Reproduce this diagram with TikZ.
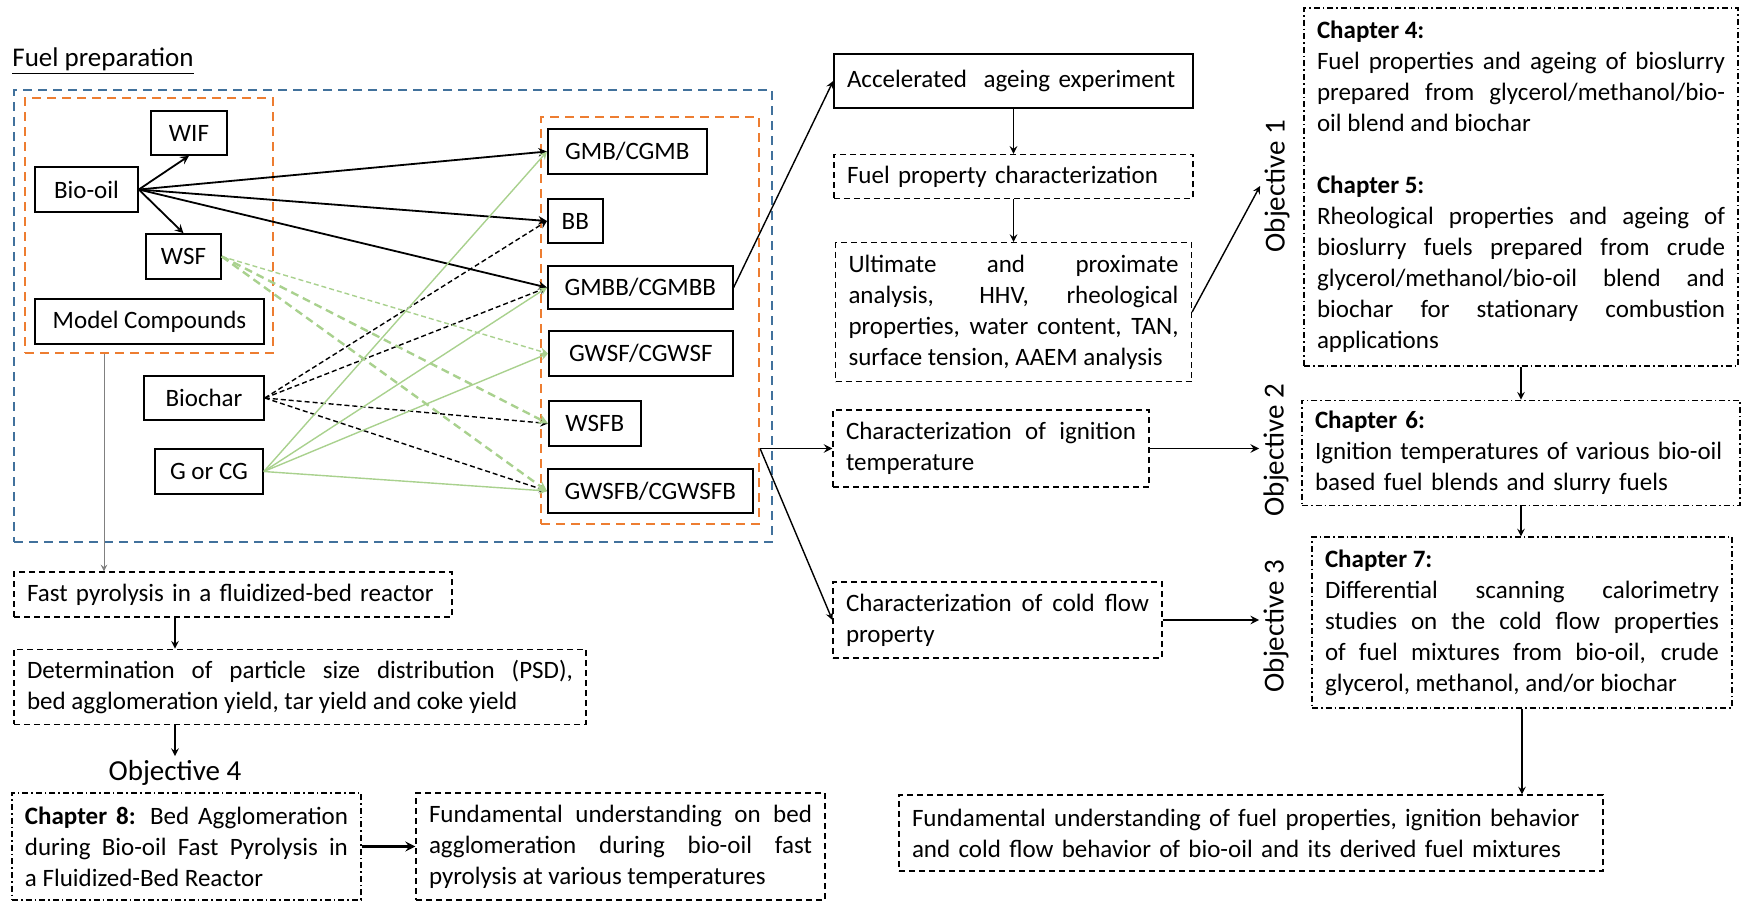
\documentclass[tikz,border=0pt]{standalone}
\usepackage{fontspec}
\setmainfont{Carlito}
\usepackage{tikz}
\usetikzlibrary{arrows,shapes,positioning,calc}
\usepackage{xcolor}
\definecolor{prepblue}{RGB}{65,113,156}
\definecolor{preporange}{RGB}{237,125,49}
\definecolor{mixgreen}{RGB}{169,209,142}
\newcommand{\chartfont}{\fontsize{12.5pt}{15.5pt}\selectfont}
\tikzstyle{arrow} = [->,>=stealth,line width=0.9pt,color=black]
\tikzstyle{thinarrow} = [->,>=stealth,line width=0.7pt,color=black]
\tikzstyle{chararrow} = [->,>=stealth,line width=0.7pt,color=black,dash pattern=on 2.5pt off 1.5pt]
\tikzstyle{greenarrow} = [->,>=stealth,line width=0.7pt,color=mixgreen]
\tikzstyle{greendash} = [->,>=stealth,line width=1.2pt,color=mixgreen,dash pattern=on 4pt off 2.5pt]
\tikzstyle{greendot} = [->,>=stealth,line width=0.7pt,color=mixgreen,dash pattern=on 2.5pt off 1.5pt]
\tikzstyle{feedline} = [->,>=stealth,line width=0.5pt,color=gray]
\tikzstyle{fuelbox} = [rectangle, draw=black, line width=0.8pt, inner sep=0pt, text centered, font=\chartfont]
\tikzstyle{stepbox} = [rectangle, draw=black, line width=0.6pt, densely dashed, inner xsep=6.5pt, inner ysep=0pt, align=justify, font=\chartfont]
\tikzstyle{chapbox} = [stepbox, dash pattern=on 3pt off 1.5pt on 0.8pt off 1.5pt]
\tikzstyle{groupbox} = [rectangle, draw=preporange, line width=1.1pt, dash pattern=on 4.5pt off 3pt, inner sep=0pt]
\tikzstyle{objlabel} = [font=\fontsize{14.5pt}{16pt}\selectfont, inner sep=2pt]

\begin{document}
\begin{tikzpicture}[x=0.5pt, y=-0.5pt]
    \useasboundingbox (0,0) rectangle (1742,902);

    % Fuel preparation frames
    \node[anchor=base west, inner sep=0pt, font=\fontsize{13.5pt}{16pt}\selectfont] (prep) at (12,66) {\underline{Fuel preparation}};
    \node[groupbox, draw=prepblue, minimum width=379pt, minimum height=226pt] (prepframe) at (393,316) {};
    \node[groupbox, minimum width=124pt, minimum height=127.5pt] (mixleft) at (149,225.5) {};
    \node[groupbox, minimum width=109pt, minimum height=203.5pt] (mixright) at (650,320.5) {};

    % Feedstocks
    \node[fuelbox, minimum width=38pt, minimum height=22pt] (wif) at (189,133) {WIF};
    \node[fuelbox, minimum width=51.5pt, minimum height=22.5pt] (biooil) at (86.5,189.5) {Bio-oil};
    \node[fuelbox, minimum width=37.5pt, minimum height=22.5pt] (wsf) at (183.5,256.5) {WSF};
    \node[fuelbox, minimum width=114.5pt, minimum height=22.5pt] (model) at (149.5,321.5) {Model Compounds};
    \node[fuelbox, minimum width=60pt, minimum height=22pt] (biochar) at (204,398) {Biochar};
    \node[fuelbox, minimum width=54pt, minimum height=22.5pt] (gcg) at (209,471.5) {G or CG};

    % Fuel mixtures
    \node[fuelbox, anchor=west, minimum width=79.5pt, minimum height=22.5pt] (gmb) at (547,151.5) {GMB/CGMB};
    \node[fuelbox, anchor=west, minimum width=27.5pt, minimum height=22pt] (bb) at (547,221) {BB};
    \node[fuelbox, anchor=west, minimum width=92.5pt, minimum height=21.5pt] (gmbb) at (547,287.5) {GMBB/CGMBB};
    \node[fuelbox, anchor=west, minimum width=92pt, minimum height=22.5pt] (gwsf) at (548,353.5) {GWSF/CGWSF};
    \node[fuelbox, anchor=west, minimum width=46pt, minimum height=22.5pt] (wsfb) at (548,423.5) {WSFB};
    \node[fuelbox, anchor=west, minimum width=102.5pt, minimum height=22pt] (gwsfb) at (547,491) {GWSFB/CGWSFB};

    % Characterization
    \node[fuelbox, align=left, inner xsep=6.5pt, text width=166.5pt, minimum height=27pt] (accel) at (1013.5,81) {Accelerated\ \ ageing experiment};
    \node[stepbox, align=left, text width=166.5pt, minimum height=22pt, below=22.5pt of accel] (fuelprop) {Fuel property characterization};
    \node[stepbox, text width=165pt, minimum height=69.5pt, below=21.5pt of fuelprop] (ult) {Ultimate and proximate\linebreak analysis, HHV, rheological\linebreak properties, water content, TAN,\linebreak surface tension, AAEM analysis};
    \node[stepbox, text width=145pt, minimum height=38.5pt] (ign) at (991,448.5) {Characterization of ignition\linebreak temperature};
    \node[stepbox, text width=151.5pt, minimum height=38pt] (cold) at (997.5,620) {Characterization of cold flow\linebreak property};

    % Objectives
    \node[objlabel, rotate=90] (obj1) at (1277,186) {Objective 1};
    \node[objlabel, rotate=90] (obj2) at (1276,450) {Objective 2};
    \node[objlabel, rotate=90] (obj3) at (1276,626) {Objective 3};
    \node[objlabel] (obj4) at (175,773) {Objective 4};

    % Chapters
    \node[chapbox, text width=204pt, minimum height=179pt] (ch45) at (1521,187) {\textbf{Chapter 4:}\\ Fuel properties and ageing of bioslurry\linebreak prepared from glycerol/methanol/bio-\linebreak oil blend and biochar\\[15.5pt] \textbf{Chapter 5:}\\ Rheological properties and ageing of\linebreak bioslurry fuels prepared from crude\linebreak glycerol/methanol/bio-oil blend and\linebreak biochar for stationary combustion\linebreak applications};
    \node[chapbox, align=left, text width=206pt, minimum height=52.5pt, below=16.5pt of ch45] (ch6) {\textbf{Chapter 6:}\\ Ignition temperatures of various bio-oil\\ based fuel blends and slurry fuels};
    \node[chapbox, text width=197pt, minimum height=85.5pt] (ch7) at (1522,622.5) {\textbf{Chapter 7:}\\ Differential scanning calorimetry\linebreak studies on the cold flow properties\linebreak of fuel mixtures from bio-oil, crude\linebreak glycerol, methanol, and/or biochar};
    \node[stepbox, align=left, text width=339pt, minimum height=38pt] (fundfuel) at (1251,833) {Fundamental understanding of fuel properties, ignition behavior\\ and cold flow behavior of bio-oil and its derived fuel mixtures};

    % Pyrolysis
    \node[stepbox, align=left, text width=206pt, minimum height=22.5pt] (fastpyr) at (233,594.5) {Fast pyrolysis in a fluidized-bed reactor};
    \node[stepbox, text width=273pt, minimum height=37.5pt, below=15.5pt of fastpyr.south west, anchor=north west] (determ) {Determination of particle size distribution (PSD),\linebreak bed agglomeration yield, tar yield and coke yield};
    \node[chapbox, text width=161.5pt, minimum height=53.5pt] (ch8) at (186.5,846.5) {\textbf{Chapter 8:} Bed Agglomeration\linebreak during Bio-oil Fast Pyrolysis in\linebreak a Fluidized-Bed Reactor};
    \node[stepbox, text width=191.5pt, minimum height=53.5pt] (fundbed) at (620.5,846.5) {Fundamental understanding on bed\linebreak agglomeration during bio-oil fast\linebreak pyrolysis at various temperatures};

    % Blending
    \draw[arrow] (biooil.east) -- (wif.south);
    \draw[arrow] (biooil.east) -- (wsf.north);
    \draw[arrow] (biooil.east) -- (gmb.west);
    \draw[arrow] (biooil.east) -- (bb.west);
    \draw[arrow] (biooil.east) -- (gmbb.west);
    \draw[chararrow] (biochar.east) -- (bb.west);
    \draw[chararrow] (biochar.east) -- (gmbb.west);
    \draw[chararrow] (biochar.east) -- (wsfb.west);
    \draw[chararrow] (biochar.east) -- (gwsfb.west);
    \draw[greendot] (wsf.east) -- (gwsf.west);
    \draw[greendash] (wsf.east) -- (wsfb.west);
    \draw[greendash] (wsf.east) -- (gwsfb.west);
    \draw[greenarrow] (gcg.east) -- (gmb.west);
    \draw[greenarrow] (gcg.east) -- (gmbb.west);
    \draw[greenarrow] (gcg.east) -- (gwsf.west);
    \draw[greenarrow] (gcg.east) -- (gwsfb.west);

    % Flow
    \draw[feedline] ([xshift=-22.5pt]mixleft.south) -- ([xshift=-22.5pt]mixleft.south |- fastpyr.north);
    \draw[thinarrow] (fastpyr.south -| obj4.north) -- (determ.north -| obj4.north);
    \draw[thinarrow] (determ.south -| obj4.north) -- (obj4.north);
    \draw[arrow, line width=1.2pt] (ch8.east) -- (fundbed.west);
    \draw[thinarrow] (gmbb.east) -- (accel.west);
    \coordinate (split) at (mixright.east |- ign.west);
    \draw[arrow] (split) -- (ign.west);
    \draw[thinarrow] (split) -- (cold.west);
    \draw[thinarrow] (accel.south) -- (fuelprop.north);
    \draw[thinarrow] (fuelprop.south) -- (ult.north);
    \draw[thinarrow] (ult.east) -- (obj1.north);
    \draw[arrow] (ign.east) -- (ign.east -| obj2.north);
    \draw[arrow] (cold.east) -- (cold.east -| obj3.north);
    \draw[thinarrow] (ch45.south) -- (ch6.north);
    \draw[thinarrow] (ch6.south) -- (ch6.south |- ch7.north);
    \draw[thinarrow] (ch7.south) -- (ch7.south |- fundfuel.north);
\end{tikzpicture}
\end{document}
